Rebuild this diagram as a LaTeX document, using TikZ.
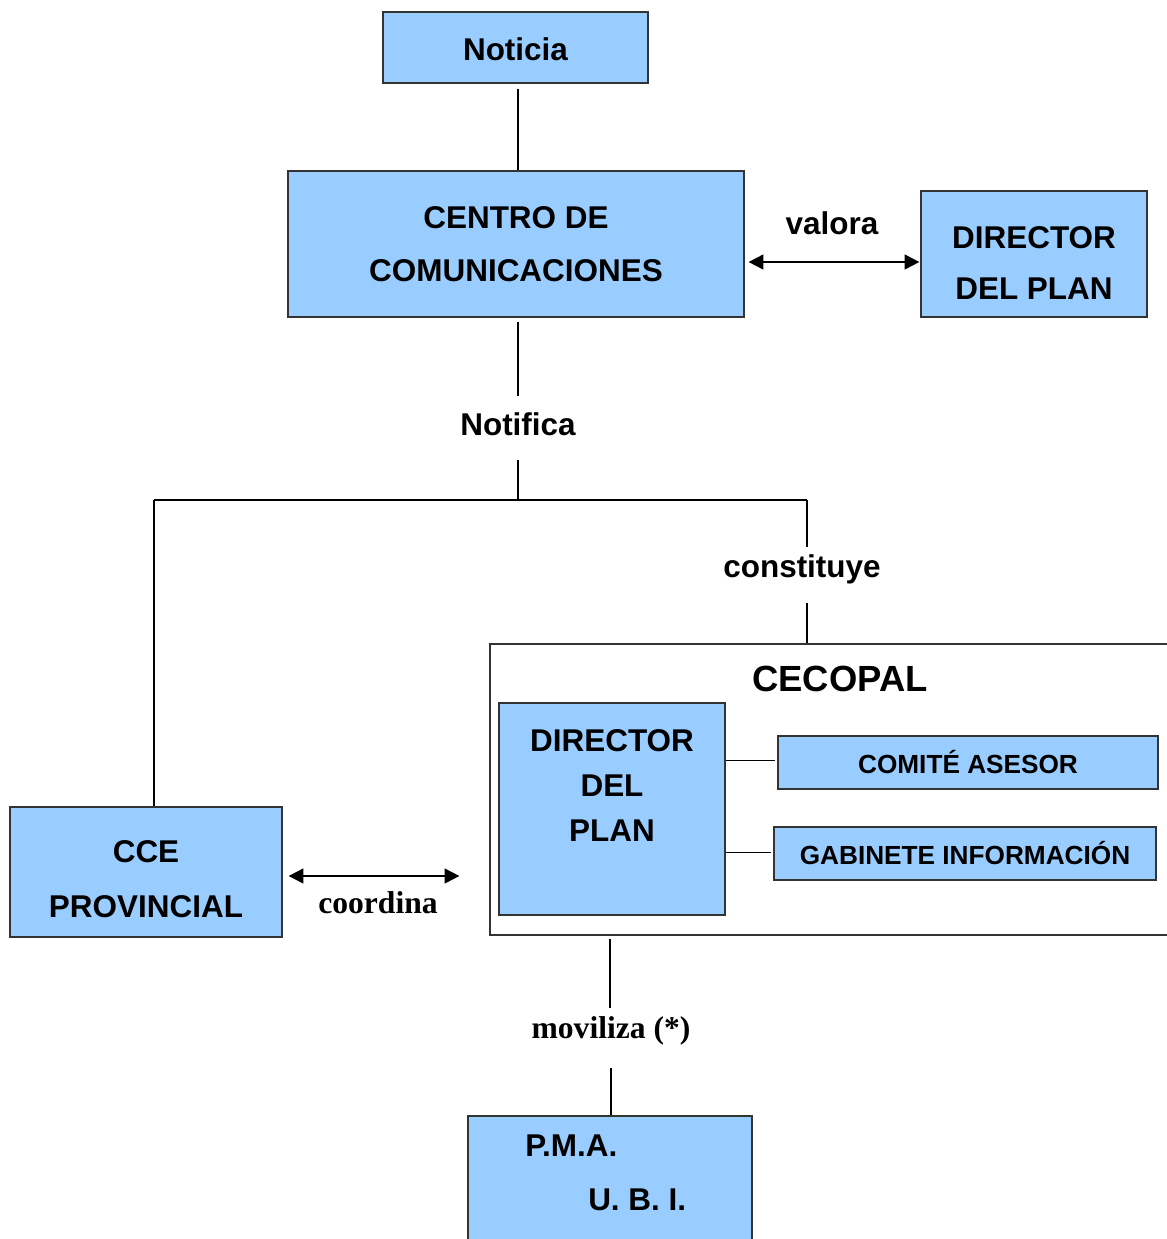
\documentclass[tikz,border=0pt]{standalone}
\usepackage{fontspec}
\setmainfont{Liberation Sans}
\newfontfamily\serifbold{Liberation Serif}
\usetikzlibrary{arrows.meta,calc}
\definecolor{boxblue}{HTML}{99CCFF}
\newcommand\mainfnt{\fontsize{23.6pt}{39.75pt}\selectfont\bfseries}
\newcommand\smallfnt{\fontsize{19.65pt}{24pt}\selectfont\bfseries}
\newcommand\bigfnt{\fontsize{27.3pt}{32pt}\selectfont\bfseries}
\newcommand\serfnt{\serifbold\fontsize{23.7pt}{28pt}\selectfont\bfseries}
\begin{document}
\begin{tikzpicture}[x=0.75pt,y=-0.75pt,
  box/.style={draw=black!80, fill=boxblue, line width=0.9pt, inner sep=0pt, align=center, font=\mainfnt},
  conn/.style={draw=black, line width=1.3pt},
  dbl/.style={line width=1.4pt, {Triangle[length=11pt,width=11pt]}-{Triangle[length=11pt,width=11pt]}},
  lbl/.style={font=\mainfnt, inner sep=0pt, anchor=base}]
\useasboundingbox (0,0) rectangle (1167,1239);
\fill[white] (0,0) rectangle (1167,1239);

% boxes
\node[box, minimum width=198.75pt, minimum height=53.25pt,
  label={[font=\mainfnt, yshift=-1.5pt]center:Noticia}] (noticia) at (515.5,47.5) {};
\node[box, minimum width=342pt, minimum height=109.5pt] (centro) at (516,244) {CENTRO DE\\COMUNICACIONES};
\node[box, minimum width=169.5pt, minimum height=94.5pt,
  label={[font=\fontsize{23.6pt}{38.25pt}\selectfont\bfseries, align=center, yshift=-6.75pt]center:{DIRECTOR\\DEL PLAN}}] (dirp) at (1034,254) {};
\node[box, minimum width=204pt, minimum height=97.5pt,
  label={[font=\fontsize{23.6pt}{41.25pt}\selectfont\bfseries, align=center, yshift=-5.6pt]center:{CCE\\PROVINCIAL}}] (cce) at (146,872) {};
\node[draw=black!80, line width=0.9pt, inner sep=0pt, minimum width=532.5pt, minimum height=218.25pt] (cecopal) at (845,789.5) {};
\node[font=\bigfnt, inner sep=0pt, anchor=base] (ceco) at (840,691) {CECOPAL};
\node[box, minimum width=169.5pt, minimum height=159pt,
  label={[font=\fontsize{23.6pt}{33.75pt}\selectfont\bfseries, align=center, yshift=17.25pt]center:{DIRECTOR\\DEL\\PLAN}}] (dir2) at (612,809) {};
\node[box, font=\smallfnt, minimum width=285pt, minimum height=39.75pt] (comite) at (968,762.5) {COMITÉ ASESOR};
\node[box, font=\smallfnt, minimum width=286.5pt, minimum height=39.75pt] (gabinete) at (965,853.5) {GABINETE INFORMACIÓN};
\node[box, minimum width=213pt, minimum height=100.5pt] (pma) at (610,1183) {};
\node[font=\fontsize{23.6pt}{40.5pt}\selectfont\bfseries, align=left, anchor=west, inner sep=0pt] (pmat) at (525,1172.5) {P.M.A.\\\hspace*{47.25pt}U. B. I.};

% labels
\node[lbl, text height=29.25pt, text depth=18.75pt] (notif) at (518,435) {Notifica};
\node[lbl] (valora) at (832,234) {valora};
\node[lbl, text height=22.5pt, text depth=19.5pt] (cons) at (802,577) {constituye};
\node[lbl, font=\serfnt] (coord) at (378,913) {coordina};
\node[lbl, font=\serfnt, text height=22.5pt, text depth=22.5pt] (mov) at (611,1038) {moviliza (*)};

% connectors
\coordinate (vx) at (518,0);
\coordinate (jl) at (154,500);
\coordinate (jr) at (807,500);
\draw[conn] ($(vx |- noticia.south)+(0,5)$) -- (vx |- centro.north);
\draw[conn] ($(vx |- centro.south)+(0,4)$) -- (notif.north);
\draw[conn] (notif.south) -- (vx |- jl);
\draw[conn] (jl) -- (jr);
\draw[conn] (jl) -- (jl |- cce.north);
\draw[conn] (jr) -- (jr |- cons.north);
\draw[conn] (jr |- cons.south) -- (jr |- cecopal.north);
\draw[conn] ($(mov.north |- cecopal.south)+(-1,3)$) -- ($(mov.north)+(-1,0)$);
\draw[conn] (mov.south) -- (mov.south |- pma.north);
\draw[conn] ($(dir2.east |- comite.west)+(0,-2)$) -- ($(comite.west)+(-2,-2)$);
\draw[conn] ($(dir2.east |- gabinete.west)+(0,-1)$) -- ($(gabinete.west)+(-2,-1)$);
\draw[dbl] ([shift={(4,18)}]centro.east) -- ([shift={(-1,8)}]dirp.west);
\draw[dbl] ([shift={(6,4)}]cce.east) -- ([shift={(-30,86.5)}]cecopal.west);
\end{tikzpicture}
\end{document}
